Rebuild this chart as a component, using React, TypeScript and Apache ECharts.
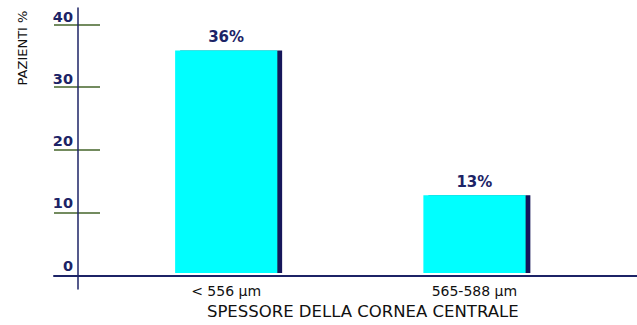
import React, { useEffect, useRef } from "react";
import * as echarts from "echarts";

const categories = ["< 556 µm", "565-588 µm"];
const values = [35.8, 12.5];
const valueLabels = ["36%", "13%"];
const yMin = 0;
const yMax = 40;
const yInterval = 10;
const xAxisTitle = "SPESSORE DELLA CORNEA CENTRALE";
const yAxisTitle = "PAZIENTI %";

const NAVY = "#1c2366";
const CYAN = "#00ffff";
const STRIP = "#14145a";
const TICK = "#45652a";

export default function App() {
  const ref = useRef<HTMLDivElement>(null);
  useEffect(() => {
    document.body.style.margin = "0";
    if (!ref.current) return;
    const chart = echarts.init(ref.current, undefined, { renderer: "svg" });
    const gTop = 24.3;
    const gBottom = 49.5;
    chart.setOption({
      animation: false,
      backgroundColor: "#ffffff",
      grid: [
        { left: 102, right: 38.5, top: gTop, bottom: gBottom },
        { left: 54, width: 46, top: gTop, bottom: gBottom },
        { left: 54, right: 0, top: gTop, bottom: gBottom },
        { left: 78, width: 10, top: 8, bottom: 36 },
      ],
      xAxis: [
        {
          type: "category",
          gridIndex: 0,
          data: categories,
          axisLine: { show: false },
          axisTick: { show: false },
          axisLabel: {
            margin: 11,
            color: "#111111",
            fontFamily: "DejaVu Sans",
            fontSize: 14,
          },
          name: xAxisTitle,
          nameLocation: "middle",
          nameGap: 29,
          nameTextStyle: {
            color: "#111111",
            fontFamily: "DejaVu Sans",
            fontSize: 16.5,
            padding: [0, 0, 0, 25],
          },
        },
        { type: "value", gridIndex: 1, show: false, min: 0, max: 1 },
        {
          type: "value",
          gridIndex: 2,
          min: 0,
          max: 1,
          z: 10,
          axisLine: { show: true, lineStyle: { color: NAVY, width: 2 } },
          axisTick: { show: false },
          axisLabel: { show: false },
          splitLine: { show: false },
        },
        { type: "value", gridIndex: 3, show: false, min: 0, max: 1 },
      ],
      yAxis: [
        {
          type: "value",
          gridIndex: 0,
          min: yMin,
          max: yMax,
          interval: yInterval,
          offset: 24,
          axisLine: { show: false },
          axisTick: { show: false },
          splitLine: { show: false },
          axisLabel: {
            margin: 5,
            verticalAlign: "bottom",
            color: NAVY,
            fontFamily: "DejaVu Sans",
            fontWeight: "bold",
            fontSize: 14.5,
          },
        },
        {
          type: "value",
          gridIndex: 1,
          min: yMin,
          max: yMax,
          interval: yInterval,
          axisLine: { show: false },
          axisTick: { show: false },
          axisLabel: { show: false },
          splitLine: { show: true, lineStyle: { color: TICK, width: 1.5 } },
        },
        {
          type: "value",
          gridIndex: 2,
          min: yMin,
          max: yMax,
          show: false,
          splitLine: { show: false },
        },
        {
          type: "value",
          gridIndex: 3,
          min: 0,
          max: 1,
          axisLine: { show: true, lineStyle: { color: NAVY, width: 1.5 } },
          axisTick: { show: false },
          axisLabel: { show: false },
          splitLine: { show: false },
        },
      ],
      graphic: [
        {
          type: "text",
          x: 22,
          y: 48,
          rotation: Math.PI / 2,
          style: {
            text: yAxisTitle,
            align: "center",
            verticalAlign: "middle",
            fill: "#111111",
            fontFamily: "DejaVu Sans",
            fontSize: 13,
          },
        },
      ],
      series: [
        {
          type: "bar",
          xAxisIndex: 0,
          yAxisIndex: 0,
          barWidth: 102,
          data: values,
          itemStyle: {
            color: CYAN,
            shadowColor: STRIP,
            shadowOffsetX: 5,
            shadowOffsetY: 0,
            shadowBlur: 0,
          },
          label: {
            show: true,
            position: "top",
            distance: 6,
            formatter: (p: any) => valueLabels[p.dataIndex],
            color: NAVY,
            fontFamily: "DejaVu Sans",
            fontWeight: "bold",
            fontSize: 15,
          },
        },
      ],
    });
    return () => chart.dispose();
  }, []);
  return <div ref={ref} style={{ width: 637, height: 325 }} />;
}
